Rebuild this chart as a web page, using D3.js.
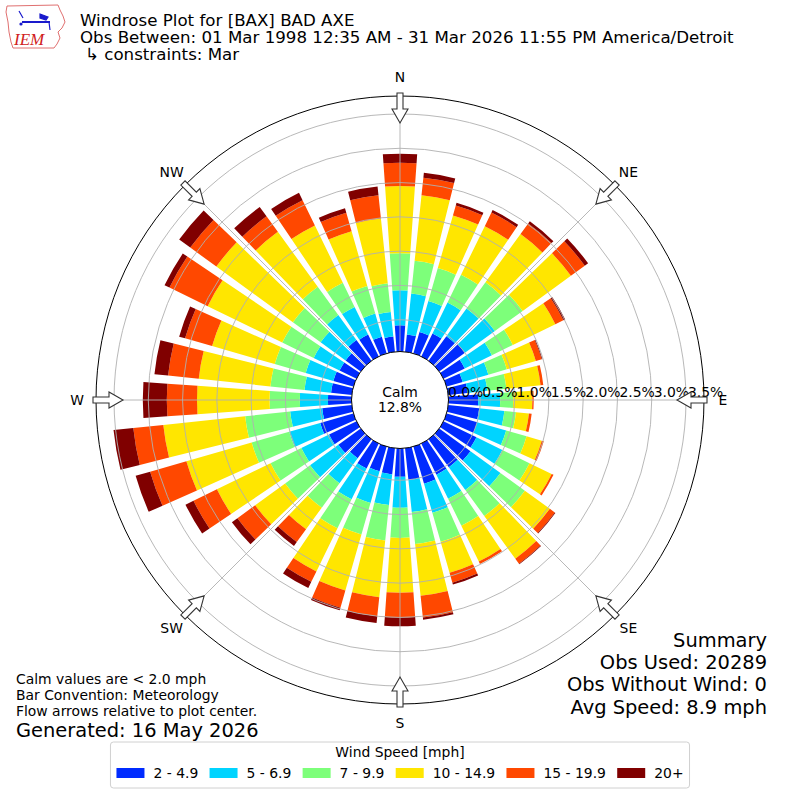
<!DOCTYPE html>
<html>
<head>
<meta charset="utf-8">
<script src="https://cdn.jsdelivr.net/npm/d3@7"></script>
<style>
    body { margin: 0; background: #fff; }
    svg { font-family: "DejaVu Sans", sans-serif; }
</style>
</head>
<body>
<svg id="chart" width="800" height="800"></svg>
<script>
// wind direction bins (degrees, meteorological convention)
const directions = [0, 10, 20, 30, 40, 50, 60, 70, 80, 90, 100, 110, 120, 130, 140, 150, 160, 170,
    180, 190, 200, 210, 220, 230, 240, 250, 260, 270, 280, 290, 300, 310, 320, 330, 340, 350];

const speedBins = ["2 - 4.9", "5 - 6.9", "7 - 9.9", "10 - 14.9", "15 - 19.9", "20+"];

// frequency [%] per direction for each speed bin
const speed2to5 = [0.42, 0.29, 0.36, 0.41, 0.48, 0.50, 0.38, 0.28, 0.32, 0.47, 0.49, 0.50, 0.57, 0.60, 0.54, 0.54, 0.60, 0.50,
    0.45, 0.42, 0.41, 0.44, 0.38, 0.44, 0.48, 0.54, 0.47, 0.38, 0.34, 0.34, 0.31, 0.31, 0.41, 0.39, 0.29, 0.26];
const speed5to7 = [0.51, 0.60, 0.47, 0.50, 0.50, 0.54, 0.44, 0.39, 0.29, 0.32, 0.37, 0.44, 0.42, 0.54, 0.41, 0.39, 0.44, 0.47,
    0.45, 0.45, 0.48, 0.50, 0.45, 0.51, 0.45, 0.47, 0.47, 0.41, 0.39, 0.42, 0.42, 0.45, 0.45, 0.45, 0.35, 0.36];
const speed7to10 = [0.54, 0.48, 0.50, 0.45, 0.47, 0.50, 0.34, 0.28, 0.28, 0.19, 0.17, 0.31, 0.44, 0.44, 0.47, 0.44, 0.44, 0.47,
    0.44, 0.52, 0.48, 0.47, 0.44, 0.45, 0.50, 0.57, 0.66, 0.44, 0.50, 0.47, 0.51, 0.50, 0.51, 0.39, 0.42, 0.42];
const speed10to15 = [0.98, 0.96, 0.80, 0.79, 0.87, 0.87, 0.69, 0.44, 0.50, 0.28, 0.19, 0.23, 0.36, 0.45, 0.77, 0.58, 0.47, 0.76,
    0.80, 0.83, 0.85, 0.70, 0.39, 0.54, 0.87, 0.99, 1.20, 1.06, 1.05, 0.95, 1.21, 1.38, 0.99, 0.93, 0.83, 0.95];
const speed15to20 = [0.34, 0.26, 0.15, 0.22, 0.19, 0.25, 0.13, 0.09, 0.04, 0.02, 0.04, 0.03, 0.03, 0.09, 0.09, 0.04, 0.15, 0.32,
    0.36, 0.28, 0.26, 0.17, 0.23, 0.32, 0.38, 0.55, 0.44, 0.44, 0.45, 0.41, 0.62, 0.47, 0.28, 0.41, 0.28, 0.34];
const speed20plus = [0.13, 0.07, 0.04, 0.04, 0.04, 0.06, 0.03, 0.01, 0.00, 0.00, 0.00, 0.00, 0.00, 0.01, 0.01, 0.00, 0.03, 0.03,
    0.13, 0.10, 0.04, 0.10, 0.07, 0.10, 0.13, 0.22, 0.29, 0.35, 0.20, 0.09, 0.08, 0.20, 0.17, 0.12, 0.07, 0.13];

const radialTicks = [0, 0.5, 1.0, 1.5, 2.0, 2.5, 3.0, 3.5];
const compassNames = ["N", "NE", "E", "SE", "S", "SW", "W", "NW"];
const compassAngles = [0, 45, 90, 135, 180, 225, 270, 315];

const calmPct = 12.8;
const titleLines = ["Windrose Plot for [BAX] BAD AXE",
    "Obs Between: 01 Mar 1998 12:35 AM - 31 Mar 2026 11:55 PM America/Detroit",
    "\u21b3 constraints: Mar"];
const noteLines = ["Calm values are < 2.0 mph", "Bar Convention: Meteorology", "Flow arrows relative to plot center."];
const generatedText = "Generated: 16 May 2026";
const summaryLines = ["Summary", "Obs Used: 20289", "Obs Without Wind: 0", "Avg Speed: 8.9 mph"];

const colors = ["#002bff", "#00d4ff", "#7dff7a", "#ffe600", "#ff4800", "#800000"];

// ---- build table for the stack
const keys = ["s0", "s1", "s2", "s3", "s4", "s5"];
const series = [speed2to5, speed5to7, speed7to10, speed10to15, speed15to20, speed20plus];
const table = directions.map((dir, i) => {
    let row = { dir: dir };
    keys.forEach((k, j) => { row[k] = series[j][i]; });
    return row;
});
const stacked = d3.stack().keys(keys)(table);

const svg = d3.select("#chart");
const cx = 400, cy = 400;
const outerR = 304, calmR = 48.5;
const rad = Math.PI / 180;

const rScale = d3.scaleLinear()
    .domain([0, 3.5])
    .range([46, 286]);

const colorScale = d3.scaleOrdinal()
    .domain(keys)
    .range(colors);

const polar = svg.append("g")
    .attr("transform", `translate(${cx},${cy})`);

// bars
const arc = d3.arc()
    .innerRadius(d => rScale(d[0]))
    .outerRadius(d => rScale(d[1]))
    .startAngle(d => (d.data.dir - 4) * rad)
    .endAngle(d => (d.data.dir + 4) * rad);

polar.append("g")
    .selectAll("g")
    .data(stacked)
    .join("g")
    .attr("fill", d => colorScale(d.key))
    .selectAll("path")
    .data(d => d.filter(s => s[1] - s[0] > 0))
    .join("path")
    .attr("d", arc);

// grid circles
polar.append("g")
    .selectAll("circle")
    .data(radialTicks.filter(t => t > 0))
    .join("circle")
    .attr("r", d => rScale(d))
    .attr("fill", "none")
    .attr("stroke", "#b0b0b0")
    .attr("stroke-width", 0.9);

// angular grid lines
polar.append("g")
    .selectAll("line")
    .data(compassAngles)
    .join("line")
    .attr("x1", 0).attr("y1", 0)
    .attr("x2", d => outerR * Math.sin(d * rad))
    .attr("y2", d => -outerR * Math.cos(d * rad))
    .attr("stroke", "#b0b0b0")
    .attr("stroke-width", 0.9);

// outer frame
polar.append("circle")
    .attr("r", outerR)
    .attr("fill", "none")
    .attr("stroke", "#000")
    .attr("stroke-width", 1);

// radial tick labels
polar.append("g")
    .selectAll("text")
    .data(radialTicks)
    .join("text")
    .attr("x", d => rScale(d) + 2)
    .attr("y", -3)
    .attr("font-size", 13.9)
    .text(d => d.toFixed(1) + "%");

// calm circle
polar.append("circle")
    .attr("r", calmR)
    .attr("fill", "#fff")
    .attr("stroke", "#000")
    .attr("stroke-width", 1);

polar.append("text")
    .attr("text-anchor", "middle")
    .attr("y", -3.5)
    .attr("font-size", 13.9)
    .text("Calm");

polar.append("text")
    .attr("text-anchor", "middle")
    .attr("y", 12)
    .attr("font-size", 13.9)
    .text(calmPct.toFixed(1) + "%");

// flow arrows pointing to the center
const arrowPts = [[-3, -307], [3, -307], [3, -291], [8, -291], [0, -277], [-8, -291], [-3, -291]];
polar.append("g")
    .selectAll("path")
    .data(compassAngles)
    .join("path")
    .attr("d", "M" + arrowPts.map(p => p.join(",")).join("L") + "Z")
    .attr("transform", d => `rotate(${d})`)
    .attr("fill", "#fff")
    .attr("stroke", "#333")
    .attr("stroke-width", 1.1);

// compass labels
polar.append("g")
    .selectAll("text")
    .data(compassAngles)
    .join("text")
    .attr("x", d => 323 * Math.sin(d * rad))
    .attr("y", d => -323 * Math.cos(d * rad))
    .attr("dy", "0.36em")
    .attr("text-anchor", "middle")
    .attr("font-size", 13.9)
    .text((d, i) => compassNames[i]);

// titles
svg.append("g")
    .selectAll("text")
    .data(titleLines)
    .join("text")
    .attr("x", (d, i) => i == 2 ? 85 : 80)
    .attr("y", (d, i) => 26 + i * 17.2)
    .attr("font-size", 16.67)
    .text(d => d);

// IEM logo
const logo = svg.append("g").attr("class", "logo");
logo.append("path")
    .attr("d", "M7,6 L58,5 L60,10 L63,16 L65,22 L62,28 L58,32 L60,38 L57,44 L54,48 L13,48 L11,42 L9,32 L8,22 L6,12 Z")
    .attr("fill", "#fff")
    .attr("stroke", "#e07070")
    .attr("stroke-width", 1);
logo.append("line")
    .attr("x1", 22).attr("y1", 22).attr("x2", 50).attr("y2", 22)
    .attr("stroke", "#1a1acc").attr("stroke-width", 2);
logo.append("path")
    .attr("d", "M40,14 L48,17 L46,20 L40,18 Z M19,11 L23,18 M49,22 L50,30")
    .attr("fill", "#1a1acc")
    .attr("stroke", "#1a1acc")
    .attr("stroke-width", 1.2);
logo.append("circle").attr("cx", 21).attr("cy", 24).attr("r", 1.6).attr("fill", "#1a1acc");
logo.append("text")
    .attr("x", 14).attr("y", 45)
    .attr("font-family", "Liberation Serif, serif")
    .attr("font-style", "italic")
    .attr("font-size", 17)
    .attr("fill", "#d02020")
    .text("IEM");

// notes lower left
svg.append("g")
    .selectAll("text")
    .data(noteLines)
    .join("text")
    .attr("x", 16)
    .attr("y", (d, i) => 684 + i * 16)
    .attr("font-size", 13.9)
    .text(d => d);

svg.append("text")
    .attr("x", 16)
    .attr("y", 737)
    .attr("font-size", 19.44)
    .text(generatedText);

// summary lower right
svg.append("g")
    .selectAll("text")
    .data(summaryLines)
    .join("text")
    .attr("x", 767)
    .attr("y", (d, i) => 647 + i * 22.2)
    .attr("text-anchor", "end")
    .attr("font-size", 19.44)
    .text(d => d);

// legend
const legend = svg.append("g");
const legendBox = legend.append("rect")
    .attr("y", 742)
    .attr("height", 46)
    .attr("rx", 3)
    .attr("fill", "#fff")
    .attr("fill-opacity", 0.8)
    .attr("stroke", "#d0d0d0")
    .attr("stroke-width", 1);

legend.append("text")
    .attr("x", cx)
    .attr("y", 757)
    .attr("text-anchor", "middle")
    .attr("font-size", 13.9)
    .text("Wind Speed [mph]");

const patchW = 28, textPad = 9, colGap = 11.3;
const entries = legend.append("g")
    .selectAll("g")
    .data(speedBins)
    .join("g");

entries.append("rect")
    .attr("width", patchW)
    .attr("height", 10)
    .attr("y", 768)
    .attr("fill", (d, i) => colors[i]);

entries.append("text")
    .attr("x", patchW + textPad)
    .attr("y", 778)
    .attr("font-size", 13.9)
    .text(d => d);

let widths = [];
entries.selectAll("text").each(function () { widths.push(this.getComputedTextLength()); });
let totalW = d3.sum(widths) + speedBins.length * (patchW + textPad) + (speedBins.length - 1) * colGap;
let xPos = cx - totalW / 2;
entries.each(function (d, i) {
    d3.select(this).attr("transform", `translate(${xPos},0)`);
    xPos += patchW + textPad + widths[i] + colGap;
});
legendBox
    .attr("x", cx - totalW / 2 - 6)
    .attr("width", totalW + 12);
</script>
</body>
</html>
